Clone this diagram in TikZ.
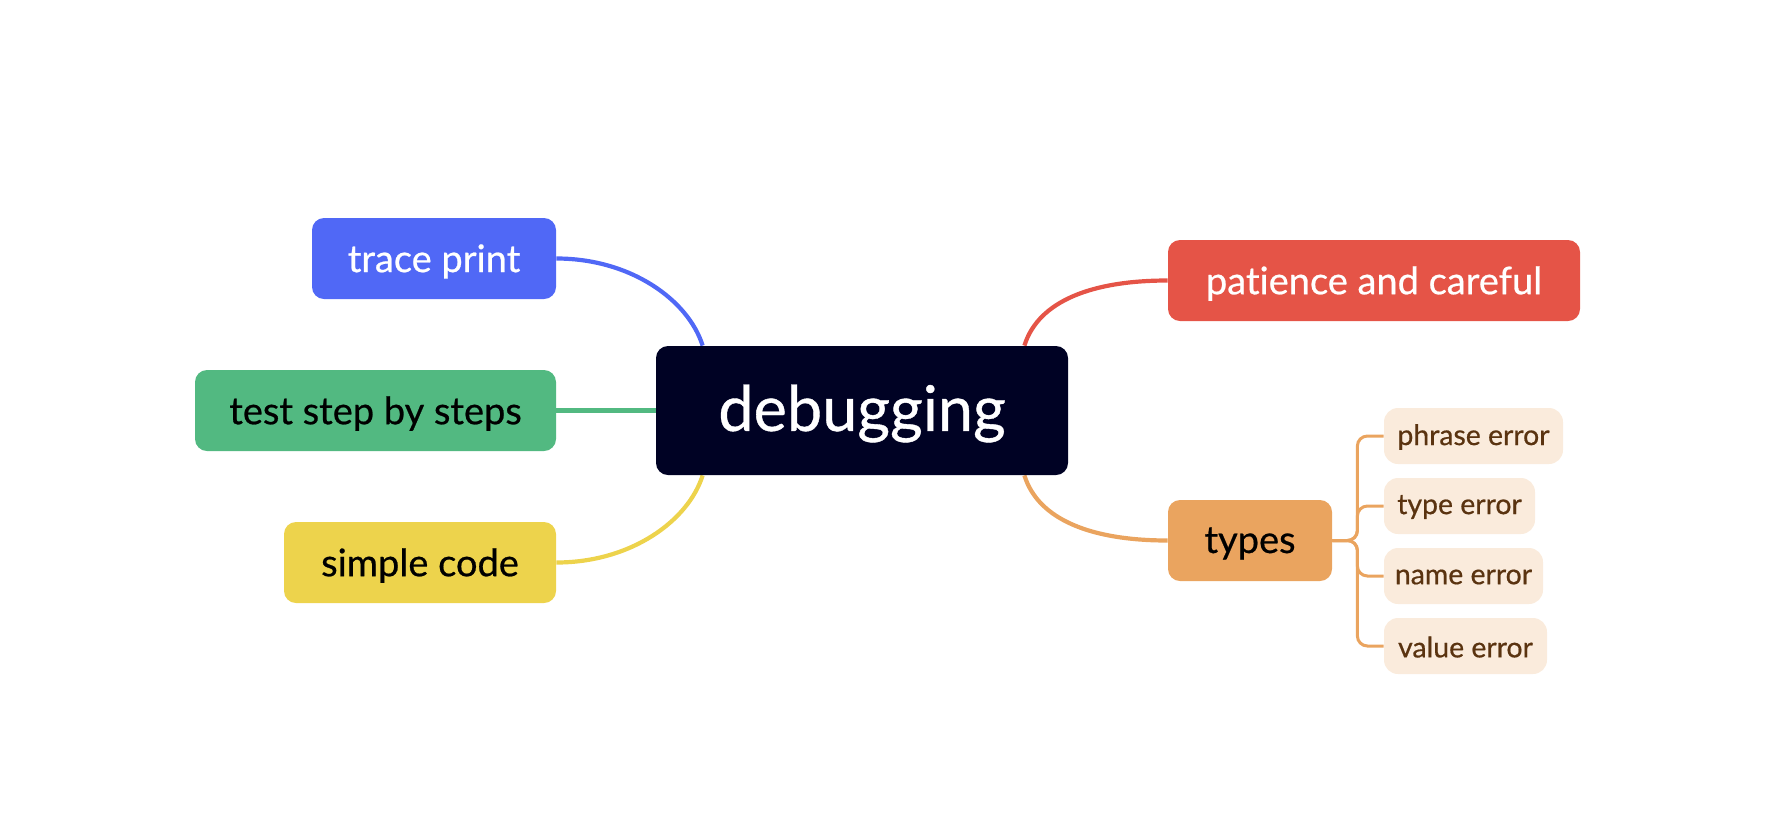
\documentclass[tikz,border=0pt]{standalone}
\usepackage{fontspec}
\setmainfont{Lato}[Ligatures={NoCommon,NoRare},FakeBold=0.6]
\usetikzlibrary{calc,backgrounds}
\definecolor{cblue}{RGB}{80,104,246}
\definecolor{cgreen}{RGB}{82,185,129}
\definecolor{cyellow}{RGB}{237,211,76}
\definecolor{cdark}{RGB}{0,2,36}
\definecolor{cred}{RGB}{229,84,71}
\definecolor{corange}{RGB}{234,164,95}
\definecolor{clight}{RGB}{250,235,220}
\definecolor{cbrown}{RGB}{90,51,16}
\newcommand\lowertxt[2]{\raisebox{-#1}[\height][\depth]{#2}}
\tikzset{
  mainbox/.style={rectangle, rounded corners=6pt, inner sep=0pt, minimum height=40.5pt, font=\fontsize{19}{22}\selectfont},
  subbox/.style={rectangle, rounded corners=7pt, inner sep=0pt, minimum height=28pt, fill=clight, text=cbrown, font=\fontsize{14.2}{17}\selectfont},
  link/.style={line width=2.1pt},
  sublink/.style={line width=1.5pt, corange, rounded corners=5pt},
}
\begin{document}
\begin{tikzpicture}[x=0.5pt,y=-0.5pt]
\useasboundingbox (0,0) rectangle (1768,836);
\node[rectangle, rounded corners=6pt, inner sep=0pt, minimum width=206pt, minimum height=64.5pt, fill=cdark, text=white, font=\fontsize{31.5}{36}\selectfont] (dbg) at (862,410.5) {\lowertxt{1.5pt}{debugging}};
\node[mainbox, fill=cblue, text=white, minimum width=122pt] (trace) at (434,258.5) {\lowertxt{1.5pt}{trace print}};
\node[mainbox, fill=cgreen, text=black, minimum width=180.5pt] (test) at (375.5,410.5) {\lowertxt{1.5pt}{test step by steps}};
\node[mainbox, fill=cyellow, text=black, minimum width=136pt] (simple) at (420,562.5) {\lowertxt{1.5pt}{simple code}};
\node[mainbox, fill=cred, text=white, minimum width=206pt] (pat) at (1374,280.5) {\lowertxt{1.5pt}{patience and careful}};
\node[mainbox, fill=corange, text=black, minimum width=82pt] (types) at (1250,540.5) {\lowertxt{1.5pt}{types}};
\node[subbox, minimum width=89.5pt] (phrase) at (1473.5,436) {\lowertxt{0.5pt}{phrase error}};
\node[subbox, minimum width=75.5pt] (typeerr) at (1459.5,506) {\lowertxt{0.5pt}{type error}};
\node[subbox, minimum width=79.5pt] (name) at (1463.5,576) {\lowertxt{0.5pt}{name error}};
\node[subbox, minimum width=81.5pt] (value) at (1465.5,646) {\lowertxt{0.5pt}{value error}};
\begin{scope}[on background layer]
\draw[link, cblue] ($(dbg.north west)+(47,0)$) .. controls ($(dbg.north west)+(33,-45)$) and ($(trace.east)+(75,0)$) .. (trace.east);
\draw[link, cyellow] ($(dbg.south west)+(47,0)$) .. controls ($(dbg.south west)+(33,45)$) and ($(simple.east)+(75,0)$) .. (simple.east);
\draw[link, cgreen] (dbg.west) -- (test.east);
\draw[link, cred] ($(dbg.north east)+(-44,0)$) .. controls ($(dbg.north east)+(-30,-45)$) and ($(pat.west)+(-75,0)$) .. (pat.west);
\draw[link, corange] ($(dbg.south east)+(-44,0)$) .. controls ($(dbg.south east)+(-30,45)$) and ($(types.west)+(-75,0)$) .. (types.west);
\draw[sublink] (types.east) -- ++(25,0) |- (phrase.west);
\draw[sublink] (types.east) -- ++(25,0) |- (typeerr.west);
\draw[sublink] (types.east) -- ++(25,0) |- (name.west);
\draw[sublink] (types.east) -- ++(25,0) |- (value.west);
\end{scope}
\end{tikzpicture}
\end{document}
